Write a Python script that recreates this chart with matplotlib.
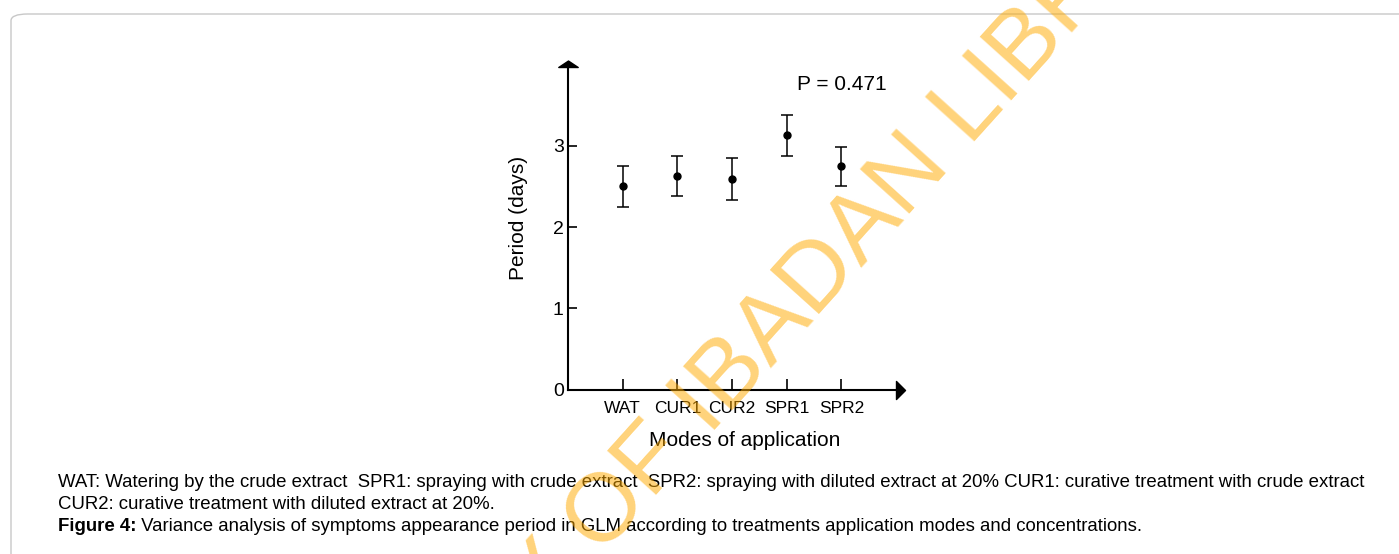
import matplotlib
matplotlib.use("Agg")
import matplotlib.pyplot as plt
from matplotlib.path import Path
from matplotlib.patches import FancyBboxPatch

# region DATA
modes = ["WAT", "CUR1", "CUR2", "SPR1", "SPR2"]
period_mean = [2.50, 2.63, 2.59, 3.13, 2.75]
period_err = [0.25, 0.245, 0.26, 0.25, 0.24]
p_label = "P = 0.471"
yticks = [0, 1, 2, 3]

caption = [
    "WAT: Watering by the crude extract  SPR1: spraying with crude extract  SPR2: spraying with diluted extract at 20% CUR1: curative treatment with crude extract",
    "CUR2: curative treatment with diluted extract at 20%.",
]
fig_title = "Figure 4:"
fig_desc = " Variance analysis of symptoms appearance period in GLM according to treatments application modes and concentrations."
watermark = "UNIVERSITY OF IBADAN LIBRARY"
# endregion

plt.rcParams['font.family'] = ['Liberation Sans', 'DejaVu Sans']

fig = plt.figure(figsize=(13.99, 5.54), dpi=100)
W, H = 1399, 554

# page frame (outline only, behind everything)
frame = FancyBboxPatch((11 / W, -0.1), 1.2, 1.1 - 14 / H,
                       boxstyle="round,pad=0,rounding_size=0.012",
                       transform=fig.transFigure, facecolor='none',
                       edgecolor='#c8c8c8', linewidth=1.0, zorder=-5)
fig.patches.append(frame)

ax = fig.add_axes([568 / W, 1 - 389.6 / H, 328 / W, (389.6 - 67) / H])
ax.patch.set_alpha(0)

x = list(range(1, len(modes) + 1))
ax.errorbar(x, period_mean, yerr=period_err, fmt='o', color='black',
            markersize=5, elinewidth=1.1, capsize=4.5, capthick=1.1)

ax.set_xlim(0, 6.0)
ax.set_ylim(0, 3.97)
ax.set_xticks(x)
ax.set_xticklabels(modes, fontsize=12.5)
ax.set_yticks(yticks)
ax.set_yticklabels([str(v) for v in yticks], fontsize=14)
ax.tick_params(axis='x', direction='in', length=8, width=1.2, pad=8, colors='black')
ax.tick_params(axis='y', direction='in', length=6.5, width=1.2, pad=3, colors='black')

for s in ['top', 'right']:
    ax.spines[s].set_visible(False)
for s in ['left', 'bottom']:
    ax.spines[s].set_linewidth(1.5)

# arrow heads at the axis ends
xhead = Path([(0, -1), (0, 1), (1, 0), (0, -1)],
             [Path.MOVETO, Path.LINETO, Path.LINETO, Path.CLOSEPOLY])
yhead = Path([(-1.5, 0), (1.5, 0), (0, 1), (-1.5, 0)],
             [Path.MOVETO, Path.LINETO, Path.LINETO, Path.CLOSEPOLY])
ax.plot([1], [0], marker=xhead, markersize=13, color='black',
        transform=ax.transAxes, clip_on=False)
ax.plot([0], [1], marker=yhead, markersize=14, color='black',
        transform=ax.transAxes, clip_on=False)

ax.text(4.19, 3.76, p_label, fontsize=15, ha='left', va='center')

fig.text(518 / W, 1 - 218 / H, "Period (days)", rotation=90,
         fontsize=15, ha='center', va='center')
fig.text(745 / W, 1 - 441 / H, "Modes of application",
         fontsize=15, ha='center', va='center')

# caption
cap_fs = 13.4
fig.text(58 / W, 1 - 486.7 / H, caption[0], fontsize=cap_fs, va='baseline')
fig.text(58 / W, 1 - 509 / H, caption[1], fontsize=cap_fs, va='baseline')
t = fig.text(58 / W, 1 - 530.7 / H, fig_title, fontsize=cap_fs,
             va='baseline', fontweight='bold')
fig.canvas.draw()
bb = t.get_window_extent()
fig.text(bb.x1 / W, 1 - 530.7 / H, fig_desc, fontsize=cap_fs, va='baseline')

# watermark
fig.text(720 / W, 1 - 424 / H, watermark, fontsize=70, color='#FFAA00', alpha=0.52,
         rotation=48, rotation_mode='anchor', ha='center', va='baseline', zorder=10)

plt.savefig("out.png", dpi=100)
